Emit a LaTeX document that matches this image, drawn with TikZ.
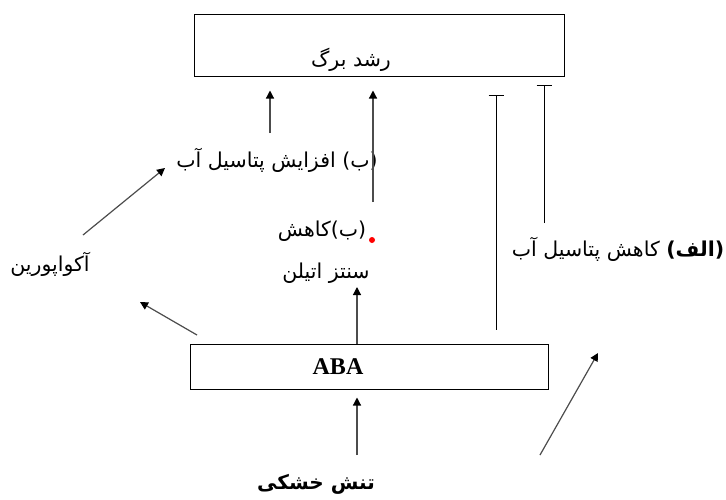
\documentclass[tikz,border=0pt]{standalone}
\usepackage{fontspec}
\setmainfont{Liberation Serif}
\newfontfamily\farsi[Script=Arabic]{DejaVu Sans}
\TeXXeTstate=1
\usetikzlibrary{arrows.meta, positioning}
\definecolor{linegray}{gray}{0.3}
\tikzset{
  box/.style={draw, rectangle, line width=1pt, inner sep=0pt},
  lbl/.style={font=\farsi\fontsize{20.5}{22}\selectfont, inner sep=0pt},
  arr/.style={-{Triangle[length=8pt,width=8pt,color=black]}, draw=linegray, line width=1.2pt},
  inhib/.style={-{Bar[width=15pt]}, line width=1pt},
}

\begin{document}
\begin{tikzpicture}[x=1pt,y=-1pt]
    \useasboundingbox (0,0) rectangle (726,499);

    % boxes
    \node[box, minimum width=370pt, minimum height=62pt] (growth) at (379,45) {};
    \node[lbl] (growthtxt) at (351,60) {\beginR رشد برگ\endR};
    \node[box, minimum width=358pt, minimum height=45pt] (aba) at (369,366.5) {};
    \node[font=\bfseries\fontsize{24}{26}\selectfont, inner sep=0pt] (abatxt) at (338,367) {ABA};

    % labels
    \node[lbl] (incr) at (277,160) {\beginR (ب) افزایش پتاسیل آب\endR};
    \node[lbl] (aqua) at (50,264) {\beginR آکواپورین\endR};
    \node[lbl] (ethdec) at (322,231) {\beginR (ب)کاهش\endR};
    \node[circle, fill=red, inner sep=0pt, minimum size=6pt] (dot) at (372,240) {};
    \node[lbl] (eth) at (326,273) {\beginR سنتز اتیلن\endR};
    \node[lbl] (wpdec) at (618,249) {\beginR{\bfseries (الف)} کاهش پتاسیل آب\endR};
    \node[lbl, font=\farsi\bfseries\fontsize{20}{22}\selectfont] (drought) at (316,484) {\beginR تنش خشکی\endR};

    % free ends
    \coordinate (incrtop) at (270,133);
    \coordinate (ethtop) at (373,202);
    \coordinate (ethbase) at (357,287);
    \coordinate (droughttop) at (357,455);
    \coordinate (abaleft) at (197,335);
    \coordinate (aquatip) at (140,302);
    \coordinate (aquatail) at (83,235);
    \coordinate (incrtip) at (165,168);
    \coordinate (bar1) at (496,95);
    \coordinate (bar2) at (544,85);
    \coordinate (bar2low) at (544,223);
    \coordinate (risetail) at (540,455);
    \coordinate (risetip) at (598,353);

    \draw[arr, shorten >=14pt] (incrtop) -- (incrtop |- growth.south);
    \draw[arr, shorten >=14pt] (ethtop) -- (ethtop |- growth.south);
    \draw[arr] (aba.north -| ethbase) -- (ethbase);
    \draw[arr, shorten >=8pt] (droughttop) -- (droughttop |- aba.south);
    \draw[arr] (abaleft) -- (aquatip);
    \draw[arr] (aquatail) -- (incrtip);
    \draw[inhib, shorten <=14pt] (aba.north -| bar1) -- (bar1);
    \draw[inhib] (bar2low) -- (bar2);
    \draw[arr] (risetail) -- (risetip);
\end{tikzpicture}
\end{document}
